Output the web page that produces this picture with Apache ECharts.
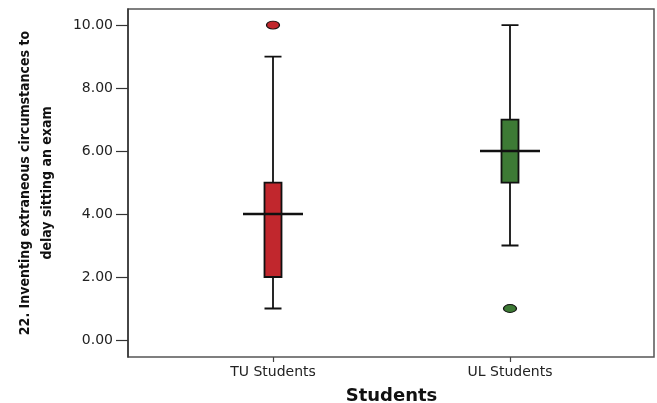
<!DOCTYPE html>
<html>
<head>
<meta charset="utf-8">
<script src="https://cdn.jsdelivr.net/npm/echarts@6/dist/echarts.min.js"></script>
<style>
html,body{margin:0;padding:0;background:#fff;}
#chart{width:657px;height:403px;}
</style>
</head>
<body>
<div id="chart"></div>
<script>
// ---- data ----
var categories = ['TU Students', 'UL Students'];
// [min whisker, Q1, median, Q3, max whisker]
var tuBox = [1, 2, 4, 5, 9];
var ulBox = [3, 5, 6, 7, 10];
var tuOutliers = [10];
var ulOutliers = [1];
var yTicks = [0, 2, 4, 6, 8, 10];
var boxColors = ['#c1272d', '#3d7a35'];
var xTitle = 'Students';
var yTitle = '22. Inventing extraneous circumstances to\ndelay sitting an exam';

var yMin = -0.54, yMax = 10.51;

var boxes = [tuBox, ulBox];
var boxData = boxes.map(function (b, i) {
  return { value: b, itemStyle: { color: boxColors[i], borderColor: '#111', borderWidth: 1.8 } };
});
var medianData = boxes.map(function (b, i) { return [categories[i], b[2]]; });
var outlierData = [];
tuOutliers.forEach(function (v) { outlierData.push({ value: [categories[0], v], itemStyle: { color: boxColors[0] } }); });
ulOutliers.forEach(function (v) { outlierData.push({ value: [categories[1], v], itemStyle: { color: boxColors[1] } }); });

var chart = echarts.init(document.getElementById('chart'), null, { renderer: 'canvas' });
chart.setOption({
  animation: false,
  backgroundColor: '#fff',
  grid: [
    { left: 128, right: 3, top: 9, bottom: 46, show: true, borderColor: '#555', borderWidth: 1.5, backgroundColor: 'transparent', containLabel: false, outerBoundsMode: 'none' },
    { left: 154.5, right: 28.5, top: 9, bottom: 46, containLabel: false, outerBoundsMode: 'none' }
  ],
  xAxis: [
    { type: 'value', gridIndex: 0, min: 0, max: 1, show: false },
    {
      type: 'category', gridIndex: 1, data: categories, position: 'bottom',
      axisLine: { show: false, onZero: false },
      axisTick: { show: true, alignWithLabel: true, length: 5, lineStyle: { color: '#444', width: 1.2 } },
      axisLabel: { color: '#222', fontFamily: 'DejaVu Sans', fontSize: 14, margin: 8 },
      name: xTitle, nameLocation: 'middle', nameGap: 30,
      nameTextStyle: { color: '#111', fontFamily: 'DejaVu Sans', fontWeight: 'bold', fontSize: 18 }
    }
  ],
  yAxis: [
    {
      type: 'value', gridIndex: 0, min: yMin, max: yMax,
      axisLine: { show: true, onZero: false, lineStyle: { color: '#333', width: 1.5 } },
      axisTick: { show: true, length: 12, customValues: yTicks, lineStyle: { color: '#333', width: 1.2 } },
      axisLabel: { color: '#222', fontFamily: 'DejaVu Sans', fontSize: 14, margin: 15, customValues: yTicks,
        formatter: function (v) { return v.toFixed(2); } },
      splitLine: { show: false },
      name: yTitle, nameLocation: 'middle', nameGap: 70, nameRotate: 90,
      nameTextStyle: { color: '#111', fontFamily: 'DejaVu Sans Condensed, DejaVu Sans, sans-serif', fontWeight: 'bold', fontSize: 14, lineHeight: 22, align: 'center' }
    },
    { type: 'value', gridIndex: 1, min: yMin, max: yMax, show: false }
  ],
  series: [
    {
      type: 'boxplot', xAxisIndex: 1, yAxisIndex: 1,
      boxWidth: [17, 17],
      data: boxData,
      itemStyle: { borderColor: '#111', borderWidth: 1.8 }
    },
    {
      type: 'scatter', xAxisIndex: 1, yAxisIndex: 1,
      symbol: 'rect', symbolSize: [60, 2.5],
      itemStyle: { color: '#111', opacity: 1 },
      data: medianData, z: 5
    },
    {
      type: 'scatter', xAxisIndex: 1, yAxisIndex: 1,
      symbol: 'circle', symbolSize: [13, 8],
      itemStyle: { borderColor: '#111', borderWidth: 1, opacity: 1 },
      data: outlierData, z: 6
    }
  ]
});
</script>
</body>
</html>
